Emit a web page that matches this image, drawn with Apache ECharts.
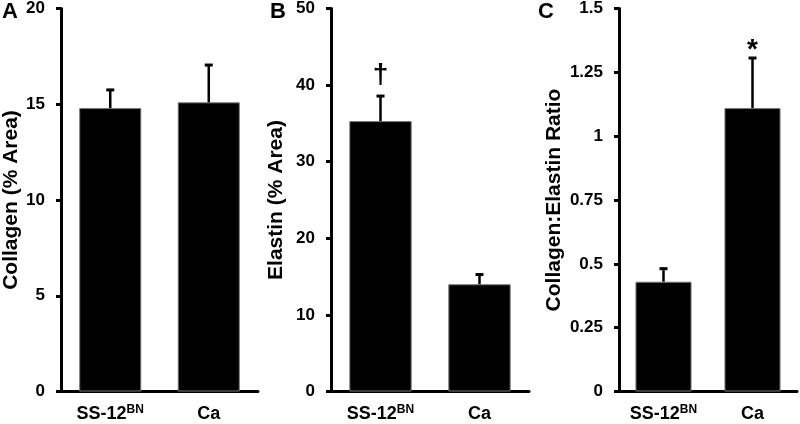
<!DOCTYPE html>
<html>
<head>
<meta charset="utf-8">
<script src="https://cdn.jsdelivr.net/npm/echarts@6/dist/echarts.min.js"></script>
<style>
html,body{margin:0;padding:0;background:#fff;}
#chart{width:800px;height:424px;}
</style>
</head>
<body>
<div id="chart"></div>
<script>
// ---- data ----
const categories = ['SS-12', 'Ca'];
const categorySup = ['BN', ''];

const collagenMean = [14.8, 15.1];
const collagenErr = [1.0, 2.0];
const collagenAnn = ['', ''];

const elastinMean = [35.3, 14.0];
const elastinErr = [3.4, 1.4];
const elastinAnn = ['\u2020', ''];

const ratioMean = [0.43, 1.11];
const ratioErr = [0.055, 0.2];
const ratioAnn = ['', '*'];

const yMax = [20, 50, 1.5];
const yInterval = [5, 10, 0.25];
const yTitles = ['Collagen (% Area)', 'Elastin (% Area)', 'Collagen:Elastin Ratio'];
const panelLetters = ['A', 'B', 'C'];

// ---- chart ----
const FONT = '"Liberation Sans", Arial, sans-serif';
const chart = echarts.init(document.getElementById('chart'), null, {renderer: 'canvas'});

const grids = [
  {left: 60, top: 7.5, width: 198, height: 384},
  {left: 331, top: 7.5, width: 198, height: 384},
  {left: 619, top: 7.5, width: 178, height: 384}
];
const nameGaps = [39, 44, 54];

const xAxes = grids.map((g, i) => ({
  type: 'category',
  gridIndex: i,
  data: categories,
  axisLine: {lineStyle: {color: '#000', width: 3}},
  axisTick: {show: false},
  axisLabel: {
    interval: 0,
    hideOverlap: false,
    margin: 12,
    formatter: (v, idx) => '{m|' + categories[idx] + '}' + (categorySup[idx] ? '{s|' + categorySup[idx] + '}' : ''),
    rich: {
      m: {fontFamily: FONT, fontWeight: 'bold', fontSize: 18, color: '#000', lineHeight: 22},
      s: {fontFamily: FONT, fontWeight: 'bold', fontSize: 12, color: '#000', lineHeight: 13, verticalAlign: 'top'}
    }
  }
}));

const yAxes = grids.map((g, i) => ({
  type: 'value',
  gridIndex: i,
  min: 0,
  max: yMax[i],
  interval: yInterval[i],
  name: yTitles[i],
  nameLocation: 'middle',
  nameGap: nameGaps[i],
  nameTextStyle: {fontFamily: FONT, fontWeight: 'bold', fontSize: 21, color: '#000'},
  splitLine: {show: false},
  axisLine: {show: true, lineStyle: {color: '#000', width: 3}},
  axisTick: {show: true, length: 5, lineStyle: {color: '#000', width: 3}},
  axisLabel: {margin: 16, fontFamily: FONT, fontWeight: 'bold', fontSize: 17, color: '#000'}
}));

function makeErr(means, errs, anns, annStyle) {
  return function (params, api) {
    const x = api.value(0);
    const m = api.value(1);
    const e = api.value(2);
    const base = api.coord([x, m]);
    const top = api.coord([x, m + e]);
    const half = 4;
    const children = [
      {type: 'line', shape: {x1: base[0], y1: base[1], x2: top[0], y2: top[1]},
       style: {stroke: '#000', lineWidth: 2.5}},
      {type: 'line', shape: {x1: top[0] - half, y1: top[1] + 1, x2: top[0] + half, y2: top[1] + 1},
       style: {stroke: '#000', lineWidth: 3}}
    ];
    const a = anns[params.dataIndex];
    if (a) {
      children.push({
        type: 'text',
        style: {
          text: a, x: top[0], y: top[1] - annStyle.offset,
          align: 'center', verticalAlign: 'middle',
          fontFamily: FONT, fontWeight: annStyle.weight, fontSize: annStyle.size, fill: '#000'
        }
      });
    }
    return {type: 'group', children};
  };
}

const panels = [
  [collagenMean, collagenErr, collagenAnn, {offset: 18, size: 24, weight: 'normal'}],
  [elastinMean, elastinErr, elastinAnn, {offset: 20, size: 28, weight: 'bold'}],
  [ratioMean, ratioErr, ratioAnn, {offset: 7, size: 28, weight: 'bold'}]
];

const series = [];
panels.forEach((p, i) => {
  const [means, errs, anns, annStyle] = p;
  series.push({
    type: 'bar',
    xAxisIndex: i, yAxisIndex: i,
    data: means,
    barWidth: '63%',
    itemStyle: {color: '#000', borderColor: '#777', borderWidth: 1},
    silent: true
  });
  series.push({
    type: 'custom',
    xAxisIndex: i, yAxisIndex: i,
    renderItem: makeErr(means, errs, anns, annStyle),
    encode: {x: 0, y: 1},
    data: means.map((m, k) => [k, m, errs[k]]),
    z: 5,
    silent: true
  });
});

const letterPos = [[2, 1], [270, 1], [538, 1]];
const graphic = panelLetters.map((L, i) => ({
  type: 'text',
  left: letterPos[i][0], top: letterPos[i][1],
  style: {text: L, fontFamily: FONT, fontWeight: 'bold', fontSize: 22, fill: '#000'}
}));

chart.setOption({
  animation: false,
  backgroundColor: '#fff',
  grid: grids,
  xAxis: xAxes,
  yAxis: yAxes,
  series: series,
  graphic: graphic
});
</script>
</body>
</html>
